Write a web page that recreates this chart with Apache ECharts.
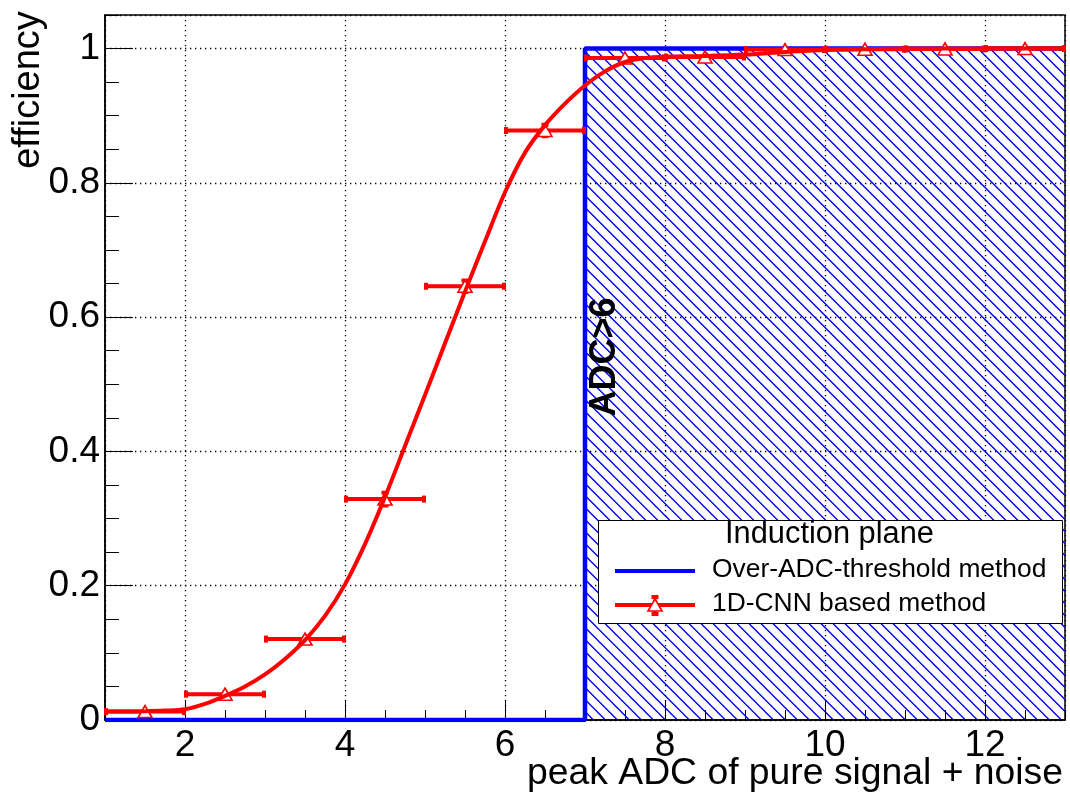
<!DOCTYPE html>
<html>
<head>
<meta charset="utf-8">
<script src="https://cdn.jsdelivr.net/npm/echarts@6/dist/echarts.min.js"></script>
<style>
html,body{margin:0;padding:0;background:#ffffff;}
#chart{width:1070px;height:796px;}
</style>
</head>
<body>
<div id="chart"></div>
<script>
// ---------------- data ----------------
const binCenters = [1.5, 2.5, 3.5, 4.5, 5.5, 6.5, 7.5, 8.5, 9.5, 10.5, 11.5, 12.5];
const binHalfWidth = [0.5, 0.5, 0.5, 0.5, 0.5, 0.5, 0.5, 0.5, 0.5, 0.5, 0.5, 0.5];
const cnnEfficiency = [0.0125, 0.0385, 0.1205, 0.329, 0.646, 0.878, 0.986, 0.9875, 0.9985, 0.999, 0.9995, 1.0];
const cnnEffError = [0.002, 0.004, 0.006, 0.011, 0.010, 0.010, 0.003, 0.003, 0.001, 0.001, 0.001, 0.0005];

const fitX = [1.0, 1.25, 1.5, 1.75, 2.0, 2.25, 2.5, 2.75, 3.0, 3.25, 3.5, 3.75, 4.0, 4.25, 4.5, 4.75, 5.0, 5.25, 5.5, 5.75, 6.0, 6.25, 6.5, 6.75, 7.0, 7.25, 7.5, 7.75, 8.0, 8.5, 9.0, 9.5, 10.0, 10.5, 11.0, 12.0, 13.0];
const fitY = [0.0125, 0.0126, 0.013, 0.014, 0.016, 0.024, 0.036, 0.050, 0.068, 0.091, 0.119, 0.155, 0.202, 0.262, 0.332, 0.408, 0.484, 0.561, 0.638, 0.713, 0.786, 0.845, 0.886, 0.918, 0.945, 0.966, 0.980, 0.986, 0.988, 0.989, 0.991, 0.995, 0.998, 0.999, 1.0, 1.0, 1.0];

const thresholdX = [1, 7, 7, 13];
const thresholdY = [0, 0, 1, 1];
const acceptedRegion = [7, 0, 13, 1]; // xmin, ymin, xmax, ymax (ADC>6)

const xRange = [1, 13];
const yRange = [0, 1.05];

const legendTitle = 'Induction plane';
const legendNames = ['Over-ADC-threshold method', '1D-CNN based method'];
const thresholdLabel = 'ADC>6';
const xTitle = 'peak ADC of pure signal + noise';
const yTitle = 'efficiency';

// ---------------- chart ----------------
const FONT = 'Liberation Sans, Arial, sans-serif';
const RED = '#ff0000';
const BLUE = '#0000ff';

const chart = echarts.init(document.getElementById('chart'), null, {renderer: 'canvas'});

const pointData = binCenters.map((x, i) => [x, cnnEfficiency[i], binHalfWidth[i], cnnEffError[i]]);
const fitData = fitX.map((x, i) => [x, fitY[i]]);
const thrData = thresholdX.map((x, i) => [x, thresholdY[i]]);

const option = {
  animation: false,
  backgroundColor: '#ffffff',
  grid: {left: 105, right: 5, top: 15, bottom: 76, show: true, borderColor: '#000', borderWidth: 1.5, backgroundColor: 'transparent'},
  xAxis: [
    {
      type: 'value', min: xRange[0], max: xRange[1], splitNumber: 6, position: 'bottom',
      axisLine: {show: true, lineStyle: {color: '#000', width: 1.5}},
      axisTick: {show: true, inside: true, length: 19, lineStyle: {color: '#000', width: 1}},
      axisLabel: {show: true, color: '#000', fontSize: 37, fontFamily: FONT, margin: 7, showMinLabel: false, showMaxLabel: false},
      splitLine: {show: true, lineStyle: {color: '#000', width: 1.3, type: [1.3, 3.7]}},
      z: 1
    },
    {
      type: 'value', min: xRange[0], max: xRange[1], interval: 0.5, position: 'bottom',
      axisLine: {show: false},
      axisTick: {show: true, inside: true, length: 10, lineStyle: {color: '#000', width: 1}},
      axisLabel: {show: false},
      splitLine: {show: false}
    }
  ],
  yAxis: [
    {
      type: 'value', min: yRange[0], max: yRange[1], interval: 0.2, position: 'left',
      axisLine: {show: true, lineStyle: {color: '#000', width: 1.5}},
      axisTick: {show: true, inside: true, length: 28, lineStyle: {color: '#000', width: 1}},
      axisLabel: {show: true, color: '#000', fontSize: 37, fontFamily: FONT, margin: 5, showMaxLabel: false},
      splitLine: {show: true, lineStyle: {color: '#000', width: 1.3, type: [1.3, 3.7]}}
    },
    {
      type: 'value', min: yRange[0], max: yRange[1], interval: 0.05, position: 'left',
      axisLine: {show: false},
      axisTick: {show: true, inside: true, length: 14, lineStyle: {color: '#000', width: 1}},
      axisLabel: {show: false},
      splitLine: {show: false}
    }
  ],
  series: [
    {
      // hatched accepted region
      type: 'custom', xAxisIndex: 0, yAxisIndex: 0, z: 1, silent: true,
      data: [acceptedRegion],
      renderItem: function (params, api) {
        const tl = api.coord([api.value(0), api.value(3)]);
        const br = api.coord([api.value(2), api.value(1)]);
        const x0 = tl[0], y0 = tl[1], x1 = br[0], y1 = br[1];
        const s = 12;
        const children = [];
        for (let c = y0 - x1 + 3; c < y1 - x0; c += s) {
          const xa = Math.max(x0, y0 - c);
          const xb = Math.min(x1, y1 - c);
          if (xb > xa) {
            children.push({type: 'line', shape: {x1: xa, y1: xa + c, x2: xb, y2: xb + c},
              style: {stroke: BLUE, lineWidth: 1.35}});
          }
        }
        return {type: 'group', children: children};
      }
    },
    {
      type: 'line', xAxisIndex: 0, yAxisIndex: 0, z: 3, data: thrData,
      symbol: 'none', lineStyle: {color: BLUE, width: 4.5}, silent: true
    },
    {
      // error bars
      type: 'custom', xAxisIndex: 0, yAxisIndex: 0, z: 4, silent: true,
      data: pointData,
      renderItem: function (params, api) {
        const x = api.value(0), y = api.value(1), xe = api.value(2), ye = api.value(3);
        const l = api.coord([x - xe, y]);
        const r = api.coord([x + xe, y]);
        const t = api.coord([x, y + ye]);
        const b = api.coord([x, y - ye]);
        const c = api.coord([x, y]);
        const ch = [
          {type: 'line', shape: {x1: l[0], y1: l[1], x2: r[0], y2: r[1]}, style: {stroke: RED, lineWidth: 4}},
          {type: 'rect', shape: {x: l[0] - 1, y: l[1] - 3.5, width: 4, height: 7}, style: {fill: RED}},
          {type: 'rect', shape: {x: r[0] - 3, y: r[1] - 3.5, width: 4, height: 7}, style: {fill: RED}}
        ];
        if (c[1] - t[1] > 6) {
          ch.push({type: 'line', shape: {x1: c[0], y1: t[1], x2: c[0], y2: b[1]}, style: {stroke: RED, lineWidth: 3}});
          ch.push({type: 'rect', shape: {x: c[0] - 3.5, y: t[1] - 1, width: 7, height: 4}, style: {fill: RED}});
          ch.push({type: 'rect', shape: {x: c[0] - 3.5, y: b[1] - 3, width: 7, height: 4}, style: {fill: RED}});
        }
        return {type: 'group', children: ch};
      }
    },
    {
      type: 'scatter', xAxisIndex: 0, yAxisIndex: 0, z: 5, silent: true,
      data: pointData.map(p => [p[0], p[1]]),
      symbol: 'triangle', symbolSize: [14, 12],
      itemStyle: {color: '#ffffff', borderColor: RED, borderWidth: 1.6, opacity: 1}
    },
    {
      type: 'line', xAxisIndex: 0, yAxisIndex: 0, z: 6, data: fitData,
      smooth: 0.3, symbol: 'none', silent: true,
      lineStyle: {color: RED, width: 4}
    }
  ],
  graphic: [
    {type: 'text', x: 29, y: 90, rotation: Math.PI / 2, z: 10,
      style: {text: yTitle, fill: '#000', font: '38px ' + FONT, textAlign: 'center', textVerticalAlign: 'middle'}},
    {type: 'text', x: 1063, y: 774, z: 10,
      style: {text: xTitle, fill: '#000', font: '37.3px ' + FONT, textAlign: 'right', textVerticalAlign: 'middle'}},
    {type: 'text', x: 605, y: 357, rotation: Math.PI / 2, z: 10,
      style: {text: thresholdLabel, fill: '#000', font: 'bold 36px ' + FONT, textAlign: 'center', textVerticalAlign: 'middle'}},
    {type: 'group', z: 20, children: [
      {type: 'rect', shape: {x: 598.5, y: 520.5, width: 464, height: 103}, style: {fill: '#fff', stroke: '#000', lineWidth: 1}, z: 20},
      {type: 'text', x: 829.5, y: 535, z: 21, style: {text: legendTitle, fill: '#000', font: '30.8px ' + FONT, textAlign: 'center', textVerticalAlign: 'middle'}},
      {type: 'line', shape: {x1: 615, y1: 571, x2: 695, y2: 571}, style: {stroke: BLUE, lineWidth: 4}, z: 21},
      {type: 'text', x: 712, y: 570, z: 21, style: {text: legendNames[0], fill: '#000', font: '26.4px ' + FONT, textAlign: 'left', textVerticalAlign: 'middle'}},
      {type: 'line', shape: {x1: 615, y1: 605, x2: 695, y2: 605}, style: {stroke: RED, lineWidth: 4}, z: 21},
      {type: 'line', shape: {x1: 655, y1: 597, x2: 655, y2: 615}, style: {stroke: RED, lineWidth: 3}, z: 21},
      {type: 'rect', shape: {x: 651.5, y: 595, width: 7, height: 4}, style: {fill: RED}, z: 21},
      {type: 'rect', shape: {x: 651.5, y: 612, width: 7, height: 4}, style: {fill: RED}, z: 21},
      {type: 'polygon', shape: {points: [[655, 599], [662, 611], [648, 611]]}, style: {fill: '#fff', stroke: RED, lineWidth: 1.6}, z: 22},
      {type: 'text', x: 712, y: 604, z: 21, style: {text: legendNames[1], fill: '#000', font: '26.4px ' + FONT, textAlign: 'left', textVerticalAlign: 'middle'}}
    ]}
  ]
};
chart.setOption(option);
</script>
</body>
</html>
